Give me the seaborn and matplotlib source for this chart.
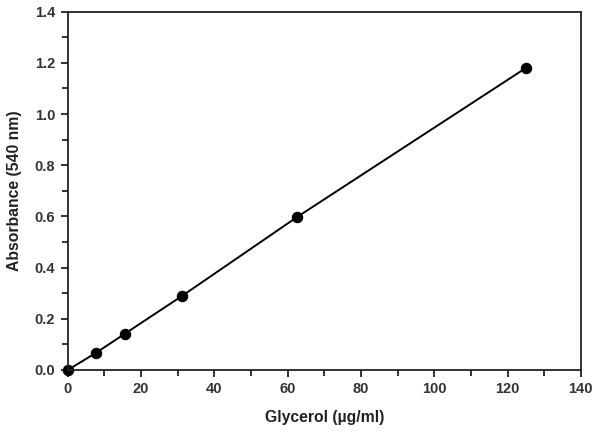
import matplotlib
matplotlib.use("Agg")
import matplotlib.pyplot as plt
import seaborn as sns
import pandas as pd
from matplotlib.ticker import MultipleLocator, FormatStrFormatter

glycerol = [0, 7.8, 15.6, 31.25, 62.5, 125]
absorbance = [0.0, 0.068, 0.142, 0.29, 0.597, 1.18]

sns.set_style("ticks")
plt.rcParams['font.family'] = ['Liberation Sans', 'DejaVu Sans']

df = pd.DataFrame({"x": glycerol, "y": absorbance})

fig = plt.figure(figsize=(6, 4.33), dpi=100)
ax = fig.add_axes([0.113, 0.1455, 0.855, 0.8275])

sns.lineplot(data=df, x="x", y="y", ax=ax, color="black", linewidth=1.4,
             marker="o", markersize=7.5, markeredgecolor="black", clip_on=False)

ax.set_xlim(0, 140)
ax.set_ylim(0, 1.4)
ax.xaxis.set_major_locator(MultipleLocator(20))
ax.xaxis.set_minor_locator(MultipleLocator(10))
ax.yaxis.set_major_locator(MultipleLocator(0.2))
ax.yaxis.set_minor_locator(MultipleLocator(0.1))
ax.yaxis.set_major_formatter(FormatStrFormatter('%.1f'))

for s in ax.spines.values():
    s.set_linewidth(1.3)
    s.set_color("#222222")
ax.tick_params(which='major', direction='out', length=5, width=1.3, colors="#222222",
               labelsize=10.5, pad=4)
ax.tick_params(which='minor', direction='out', length=4, width=1.3, colors="#222222")
for lab in ax.get_xticklabels() + ax.get_yticklabels():
    lab.set_fontweight('bold')
    lab.set_color("#333333")

ax.set_xlabel("Glycerol (µg/ml)", fontsize=11.3, fontweight='bold', color="#222222", labelpad=10)
ax.set_ylabel("Absorbance (540 nm)", fontsize=11.3, fontweight='bold', color="#222222", labelpad=9)

fig.savefig("out.png", dpi=100)
